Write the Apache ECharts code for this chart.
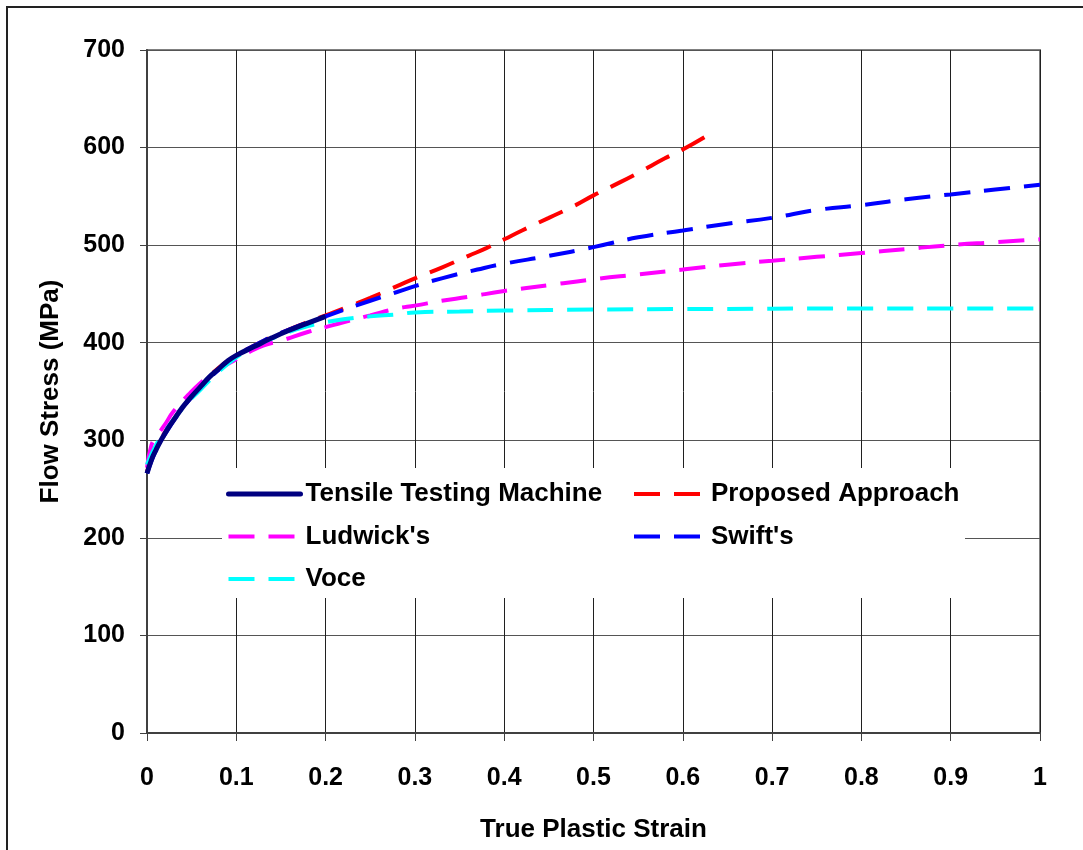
<!DOCTYPE html>
<html>
<head>
<meta charset="utf-8">
<script src="https://cdn.jsdelivr.net/npm/echarts@6/dist/echarts.min.js"></script>
<style>
html,body{margin:0;padding:0;background:#fff;}
#chart{width:1083px;height:850px;}
</style>
</head>
<body>
<div id="chart"></div>
<script>
// ---- Data ----
const xTickLabels = ['0','0.1','0.2','0.3','0.4','0.5','0.6','0.7','0.8','0.9','1'];
const yTickLabels = ['0','100','200','300','400','500','600','700'];

const tensileStrain = [0, 0.005, 0.01, 0.02, 0.03, 0.04, 0.05, 0.06, 0.07, 0.08, 0.09, 0.1, 0.12, 0.14, 0.16, 0.18, 0.2];
const tensileStress = [266, 280, 290, 307, 321, 334, 345, 355, 365, 373, 381, 387, 396, 405, 413, 420, 427];

const proposedStrain = [0, 0.01, 0.02, 0.04, 0.06, 0.08, 0.1, 0.12, 0.15, 0.2, 0.22, 0.25, 0.28, 0.3, 0.33, 0.36, 0.38, 0.4, 0.42, 0.45, 0.48, 0.5, 0.52, 0.55, 0.58, 0.6, 0.625];
const proposedStress = [268, 292, 308, 334, 356, 374, 387, 397, 410, 428, 435, 446, 458, 466, 477, 489, 497, 506, 515, 528, 541, 551, 560, 574, 589, 598, 611];

const ludwickStrain = [0, 0.005, 0.01, 0.02, 0.03, 0.05, 0.07, 0.1, 0.13, 0.15, 0.18, 0.2, 0.22, 0.25, 0.28, 0.3, 0.33, 0.36, 0.4, 0.45, 0.5, 0.55, 0.6, 0.65, 0.7, 0.75, 0.8, 0.85, 0.9, 0.95, 1.0];
const ludwickStress = [272, 295, 303, 316, 330, 350, 366, 383, 397, 402, 411, 416, 421, 428, 435, 438, 443, 447, 453, 459, 465, 470, 475, 480, 484, 488, 492, 496, 500, 503, 506];

const swiftStrain = [0, 0.01, 0.02, 0.04, 0.06, 0.08, 0.1, 0.12, 0.15, 0.2, 0.25, 0.28, 0.3, 0.33, 0.37, 0.4, 0.45, 0.5, 0.55, 0.6, 0.65, 0.7, 0.75, 0.8, 0.85, 0.9, 0.95, 1.0];
const swiftStress = [266, 290, 306, 333, 354, 372, 386, 397, 410, 427, 443, 452, 458, 466, 475, 481, 489, 498, 508, 515, 522, 528, 536, 541, 547, 552, 557, 562];

const voceStrain = [0, 0.01, 0.02, 0.04, 0.06, 0.08, 0.1, 0.12, 0.15, 0.18, 0.2, 0.22, 0.25, 0.28, 0.3, 0.35, 0.4, 0.5, 0.6, 0.8, 1.0];
const voceStress = [275, 295, 309, 333, 352, 370, 385, 396, 408, 417, 421, 424, 427, 429, 431, 432, 433, 434, 434.5, 435, 435];

const seriesNames = ['Tensile Testing Machine', 'Proposed Approach', "Ludwick's", "Swift's", 'Voce'];
const seriesColors = ['#000080', '#ff0000', '#ff00ff', '#0000ff', '#00ffff'];

function pairs(xs, ys) { return xs.map((x, i) => [x, ys[i]]); }

const FONT = "'Liberation Sans', Arial, sans-serif";
const DASH = [26, 14];

function legendItem(i) {
  const solid = i === 0;
  return {
    name: seriesNames[i],
    itemStyle: { opacity: 0 },
    lineStyle: { color: seriesColors[i], width: solid ? 5 : 4, type: solid ? 'solid' : DASH, cap: solid ? 'round' : 'butt', opacity: 1 }
  };
}

const chart = echarts.init(document.getElementById('chart'));
const legendText = { fontFamily: FONT, fontWeight: 'bold', fontSize: 26, color: '#000' };

function lineSeries(i, xs, ys, z) {
  const solid = i === 0;
  return {
    name: seriesNames[i], type: 'line', data: pairs(xs, ys), showSymbol: false, symbol: 'none', smooth: true, z: z,
    lineStyle: { color: seriesColors[i], width: solid ? 5 : 4, type: solid ? 'solid' : DASH },
    itemStyle: { color: seriesColors[i] }
  };
}

chart.setOption({
  animation: false,
  backgroundColor: '#fff',
  graphic: [
    { type: 'rect', z: -10, silent: true, shape: { x: 7, y: 7, width: 1100, height: 880 }, style: { fill: 'none', stroke: '#222', lineWidth: 2 } },
    { type: 'rect', z: 1, silent: true, shape: { x: 222, y: 468, width: 743, height: 130 }, style: { fill: '#fff' } }
  ],
  grid: { left: 147, right: 43, top: 50, bottom: 117, show: true, borderColor: '#808080', borderWidth: 2, backgroundColor: 'transparent' },
  xAxis: {
    type: 'value', min: 0, max: 1, interval: 0.1,
    name: 'True Plastic Strain', nameLocation: 'middle', nameGap: 84,
    nameTextStyle: { fontFamily: FONT, fontWeight: 'bold', fontSize: 26, color: '#000' },
    axisLine: { show: true, lineStyle: { color: '#404040', width: 2 } },
    axisTick: { show: true, length: 8, lineStyle: { color: '#404040', width: 1 } },
    axisLabel: { margin: 33, fontFamily: FONT, fontWeight: 'bold', fontSize: 25, color: '#000',
      formatter: v => xTickLabels[Math.round(v * 10)] },
    splitLine: { show: true, lineStyle: { color: '#202020', width: 1 } }
  },
  yAxis: {
    type: 'value', min: 0, max: 700, interval: 100,
    name: 'Flow Stress (MPa)', nameLocation: 'middle', nameGap: 83,
    nameTextStyle: { fontFamily: FONT, fontWeight: 'bold', fontSize: 26, color: '#000' },
    axisLine: { show: true, lineStyle: { color: '#404040', width: 2 } },
    axisTick: { show: true, length: 7, lineStyle: { color: '#404040', width: 1 } },
    axisLabel: { margin: 22, fontFamily: FONT, fontWeight: 'bold', fontSize: 25, color: '#000',
      formatter: v => yTickLabels[Math.round(v / 100)] },
    splitLine: { show: true, lineStyle: { color: '#555', width: 1 } }
  },
  legend: [
    { data: [legendItem(0), legendItem(2), legendItem(4)], orient: 'vertical', left: 226, top: 481,
      padding: 0, itemWidth: 72, itemHeight: 26, itemGap: 16.5, textStyle: legendText, z: 5 },
    { data: [legendItem(1), legendItem(3)], orient: 'vertical', left: 632, top: 481,
      padding: 0, itemWidth: 72, itemHeight: 26, itemGap: 16.5, textStyle: legendText, z: 5 }
  ],
  series: [
    lineSeries(0, tensileStrain, tensileStress, 6),
    lineSeries(1, proposedStrain, proposedStress, 3),
    lineSeries(2, ludwickStrain, ludwickStress, 4),
    lineSeries(3, swiftStrain, swiftStress, 4),
    lineSeries(4, voceStrain, voceStress, 5)
  ]
});
</script>
</body>
</html>
